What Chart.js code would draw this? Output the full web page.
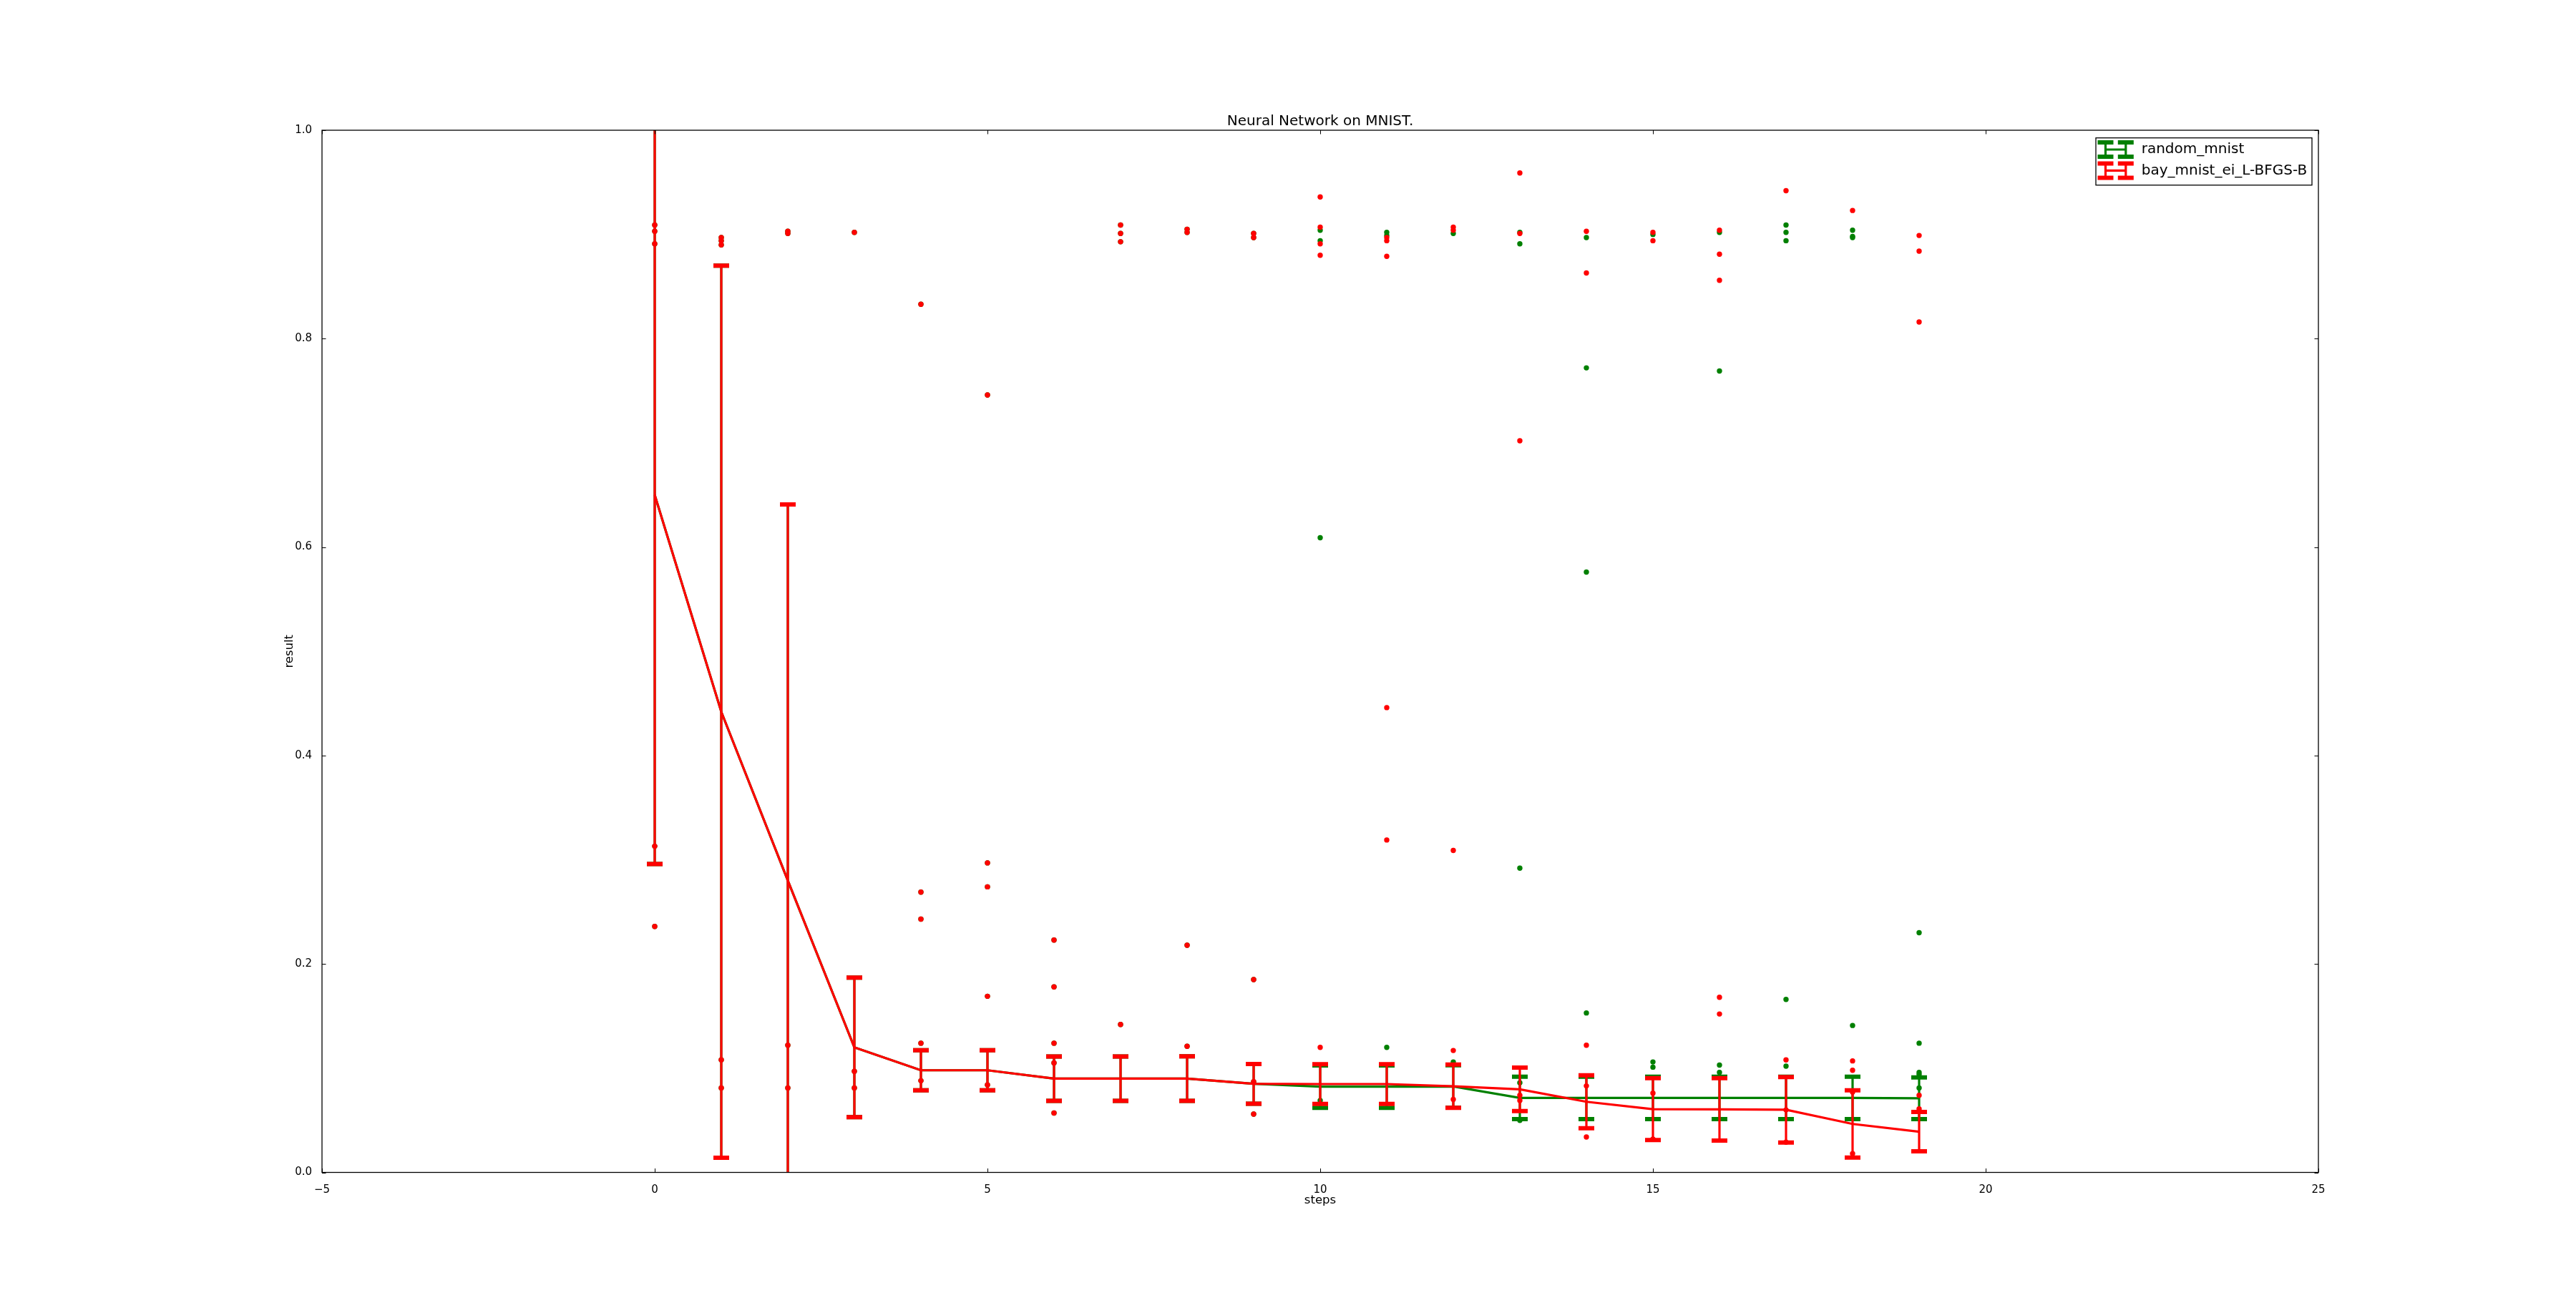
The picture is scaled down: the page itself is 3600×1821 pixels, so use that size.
<!DOCTYPE html>
<html>
<head>
<meta charset="utf-8">
<title>Neural Network on MNIST.</title>
<script src="https://cdn.jsdelivr.net/npm/chart.js@4.4.1/dist/chart.umd.min.js"></script>
<style>
  html, body { margin: 0; padding: 0; background: #fff; }
  canvas { display: block; }
</style>
</head>
<body>
<canvas id="chart" width="3600" height="1821"></canvas>
<script>
// values
const steps = [0, 1, 2, 3, 4, 5, 6, 7, 8, 9, 10, 11, 12, 13, 14, 15, 16, 17, 18, 19]

const randomMean = [0.650, 0.442, 0.280, 0.120, 0.098, 0.098, 0.090, 0.090, 0.090, 0.085,
  0.0823, 0.0823, 0.0825, 0.0715, 0.0715, 0.0715, 0.0715, 0.0715, 0.0715, 0.0712]
const randomStd = [0.354, 0.428, 0.361, 0.067, 0.0193, 0.0193, 0.0213, 0.0213, 0.0214, 0.0191,
  0.0204, 0.0204, 0.0204, 0.0204, 0.0204, 0.0204, 0.0204, 0.0204, 0.0204, 0.0200]

const bayMean = [0.650, 0.442, 0.280, 0.120, 0.098, 0.098, 0.090, 0.090, 0.090, 0.085,
  0.0848, 0.0848, 0.0827, 0.0797, 0.0678, 0.0607, 0.0605, 0.0601, 0.0465, 0.0391]
const bayStd = [0.354, 0.428, 0.361, 0.067, 0.0193, 0.0193, 0.0213, 0.0213, 0.0214, 0.0191,
  0.0190, 0.0190, 0.0208, 0.0208, 0.0254, 0.0297, 0.0300, 0.0314, 0.0323, 0.0189]

// individual results of every run, one list per step
const randomRuns = [
  [0.909, 0.903, 0.891, 0.313, 0.236],
  [0.897, 0.894, 0.890, 0.108, 0.081],
  [0.903, 0.901, 0.122, 0.081],
  [0.902, 0.097, 0.081],
  [0.833, 0.269, 0.243, 0.124, 0.088],
  [0.746, 0.297, 0.274, 0.169, 0.084],
  [0.223, 0.178, 0.124, 0.105, 0.057],
  [0.909, 0.901, 0.893, 0.142],
  [0.905, 0.902, 0.218, 0.121],
  [0.901, 0.897, 0.185, 0.087, 0.056],
  [0.904, 0.894, 0.609, 0.069],
  [0.902, 0.899, 0.120],
  [0.901, 0.106],
  [0.902, 0.891, 0.292, 0.086, 0.050],
  [0.897, 0.772, 0.576, 0.153],
  [0.900, 0.106, 0.101],
  [0.902, 0.769, 0.103, 0.096],
  [0.909, 0.902, 0.894, 0.166, 0.102],
  [0.904, 0.898, 0.897, 0.141],
  [0.230, 0.124, 0.096, 0.094, 0.081]
]

const bayRuns = [
  [0.909, 0.903, 0.891, 0.313, 0.236],
  [0.897, 0.894, 0.890, 0.108, 0.081],
  [0.903, 0.901, 0.122, 0.081],
  [0.902, 0.097, 0.081],
  [0.833, 0.269, 0.243, 0.124, 0.088],
  [0.746, 0.297, 0.274, 0.169, 0.084],
  [0.223, 0.178, 0.124, 0.105, 0.057],
  [0.909, 0.901, 0.893, 0.142],
  [0.905, 0.902, 0.218, 0.121],
  [0.901, 0.897, 0.185, 0.087, 0.056],
  [0.936, 0.907, 0.891, 0.880, 0.120],
  [0.897, 0.894, 0.879, 0.446, 0.319],
  [0.907, 0.904, 0.309, 0.117, 0.070],
  [0.959, 0.901, 0.702, 0.074, 0.069],
  [0.903, 0.863, 0.122, 0.083, 0.034],
  [0.902, 0.894, 0.076, 0.032],
  [0.904, 0.881, 0.856, 0.168, 0.152],
  [0.942, 0.108, 0.060, 0.029],
  [0.923, 0.107, 0.098, 0.077, 0.018],
  [0.899, 0.884, 0.816, 0.074, 0.061]
]

const xTicks = [-5, 0, 5, 10, 15, 20, 25]
const yTicks = [0.0, 0.2, 0.4, 0.6, 0.8, 1.0]

const GREEN = '#008000'
const RED = '#ff0000'
const FONT = 'DejaVu Sans'
const LINE_W = 3.2
const CAP_W = 6

function meanPoints(mean) {
  return steps.map((s, i) => ({ x: s, y: mean[i] }))
}

function runPoints(runs) {
  return runs.flatMap((vals, i) => vals.map(v => ({ x: steps[i], y: v })))
}

// error bars drawn right after their mean line, like matplotlib's errorbar
const errorBars = {
  id: 'errorBars',
  afterDatasetDraw(chart, args) {
    const ds = chart.data.datasets[args.index]
    if (!ds.errors) return
    const { ctx, chartArea, scales: { x, y } } = chart
    ctx.save()
    ctx.beginPath()
    ctx.rect(chartArea.left, chartArea.top, chartArea.width, chartArea.height)
    ctx.clip()
    ctx.strokeStyle = ds.borderColor
    ds.data.forEach((p, i) => {
      const px = x.getPixelForValue(p.x)
      const hi = y.getPixelForValue(p.y + ds.errors[i])
      const lo = y.getPixelForValue(p.y - ds.errors[i])
      ctx.lineWidth = LINE_W
      ctx.beginPath()
      ctx.moveTo(px, hi)
      ctx.lineTo(px, lo)
      ctx.stroke()
      ctx.lineWidth = CAP_W
      ctx.beginPath()
      ctx.moveTo(px - 11, hi); ctx.lineTo(px + 11, hi)
      ctx.moveTo(px - 11, lo); ctx.lineTo(px + 11, lo)
      ctx.stroke()
    })
    ctx.restore()
  }
}

// axes box with inward ticks on all four sides
const frame = {
  id: 'frame',
  afterDatasetsDraw(chart) {
    const { ctx, chartArea: a, scales: { x, y } } = chart
    ctx.save()
    ctx.strokeStyle = '#000'
    ctx.lineWidth = 1
    ctx.beginPath()
    x.ticks.forEach(t => {
      const px = Math.round(x.getPixelForValue(t.value)) + 0.5
      ctx.moveTo(px, a.bottom); ctx.lineTo(px, a.bottom - 5.5)
      ctx.moveTo(px, a.top); ctx.lineTo(px, a.top + 5.5)
    })
    y.ticks.forEach(t => {
      const py = Math.round(y.getPixelForValue(t.value)) + 0.5
      ctx.moveTo(a.left, py); ctx.lineTo(a.left + 5.5, py)
      ctx.moveTo(a.right, py); ctx.lineTo(a.right - 5.5, py)
    })
    ctx.stroke()
    ctx.lineWidth = 1.3
    ctx.strokeRect(a.left, a.top, a.width, a.height)
    ctx.restore()
  }
}

function drawHandle(ctx, x0, x1, cy, color) {
  ctx.strokeStyle = color
  ctx.lineWidth = LINE_W
  ctx.beginPath()
  ctx.moveTo(x0, cy); ctx.lineTo(x1, cy)
  ;[x0, x1].forEach(px => { ctx.moveTo(px, cy - 10); ctx.lineTo(px, cy + 10) })
  ctx.stroke()
  ctx.lineWidth = CAP_W
  ctx.beginPath()
  ;[x0, x1].forEach(px => {
    ctx.moveTo(px - 11, cy - 10); ctx.lineTo(px + 11, cy - 10)
    ctx.moveTo(px - 11, cy + 10); ctx.lineTo(px + 11, cy + 10)
  })
  ctx.stroke()
}

const legendBox = {
  id: 'legendBox',
  afterDraw(chart) {
    const { ctx, chartArea: a } = chart
    const entries = chart.data.datasets.filter(d => d.legendLabel).reverse()
    const left = a.right - 311
    const top = a.top + 10.7
    ctx.save()
    ctx.fillStyle = '#fff'
    ctx.fillRect(left, top, 302, 66)
    ctx.strokeStyle = '#000'
    ctx.lineWidth = 1.3
    ctx.strokeRect(left, top, 302, 66)
    ctx.font = '20px "' + FONT + '"'
    ctx.textBaseline = 'middle'
    ctx.textAlign = 'left'
    entries.forEach((d, i) => {
      const cy = top + 16.3 + i * 29.4
      drawHandle(ctx, left + 13.5, left + 41.8, cy, d.borderColor)
      ctx.fillStyle = '#000'
      ctx.fillText(d.legendLabel, left + 63.7, cy)
    })
    ctx.restore()
  }
}

Chart.defaults.font.family = FONT
Chart.defaults.color = '#000'

new Chart(document.getElementById('chart'), {
  type: 'scatter',
  data: {
    datasets: [
      {
        type: 'scatter',
        data: runPoints(bayRuns),
        backgroundColor: RED,
        borderWidth: 0,
        pointRadius: 3.7,
        order: 0
      },
      {
        type: 'line',
        legendLabel: 'bay_mnist_ei_L-BFGS-B',
        data: meanPoints(bayMean),
        errors: bayStd,
        borderColor: RED,
        borderWidth: LINE_W,
        pointRadius: 0,
        tension: 0,
        fill: false,
        order: 1
      },
      {
        type: 'scatter',
        data: runPoints(randomRuns),
        backgroundColor: GREEN,
        borderWidth: 0,
        pointRadius: 3.7,
        order: 2
      },
      {
        type: 'line',
        legendLabel: 'random_mnist',
        data: meanPoints(randomMean),
        errors: randomStd,
        borderColor: GREEN,
        borderWidth: LINE_W,
        pointRadius: 0,
        tension: 0,
        fill: false,
        order: 3
      }
    ]
  },
  options: {
    responsive: false,
    devicePixelRatio: 1,
    animation: false,
    layout: { padding: { left: 0, right: 360, top: 0, bottom: 0 } },
    plugins: {
      legend: { display: false },
      tooltip: { enabled: false },
      title: {
        display: true,
        fullSize: false,
        text: 'Neural Network on MNIST.',
        color: '#000',
        font: { family: FONT, size: 20, weight: 'normal' },
        padding: { top: 157.5, bottom: 0.5 }
      }
    },
    scales: {
      x: {
        type: 'linear',
        min: -5,
        max: 25,
        grid: { display: false },
        border: { display: false },
        afterBuildTicks: scale => { scale.ticks = xTicks.map(v => ({ value: v })) },
        afterFit: scale => { scale.height = 182.5 },
        ticks: {
          font: { size: 15 },
          padding: 8,
          maxRotation: 0,
          autoSkip: false,
          callback: v => (v < 0 ? '\u2212' + Math.abs(v) : String(v))
        },
        title: {
          display: true,
          text: 'steps',
          font: { size: 16.5 },
          padding: { top: 0, bottom: 133.1 }
        }
      },
      y: {
        type: 'linear',
        min: 0,
        max: 1,
        grid: { display: false },
        border: { display: false },
        afterBuildTicks: scale => { scale.ticks = yTicks.map(v => ({ value: v })) },
        afterFit: scale => { scale.width = 450 },
        ticks: {
          font: { size: 15 },
          padding: 6,
          autoSkip: false,
          callback: v => Number(v).toFixed(1)
        },
        title: {
          display: true,
          text: 'result',
          font: { size: 16.5 },
          padding: { top: 394.8, bottom: 0 }
        }
      }
    }
  },
  plugins: [errorBars, frame, legendBox]
})
</script>
</body>
</html>
